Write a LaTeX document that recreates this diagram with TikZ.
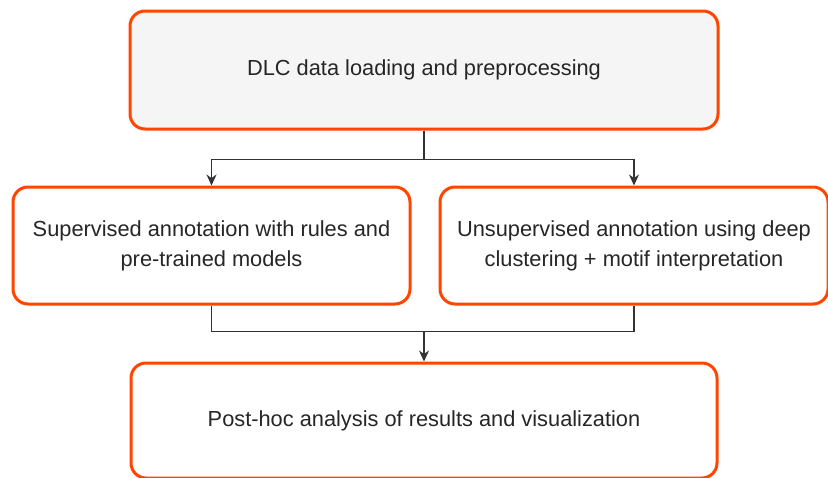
\documentclass[tikz,border=0pt]{standalone}
\usepackage{fontspec}
\setmainfont{Liberation Sans}
\usepackage{xcolor}
\usetikzlibrary{arrows.meta, positioning, calc}

\definecolor{boxline}{HTML}{FF4500}
\definecolor{boxfill}{HTML}{F5F5F5}
\definecolor{wire}{HTML}{333333}

\begin{document}
\begin{tikzpicture}[x=1pt, y=-1pt]
\tikzstyle{stage} = [rectangle, rounded corners=15pt, draw=boxline, line width=3pt, fill=white, align=center, text=black!85, font=\fontsize{21.8}{30}\selectfont, inner sep=0pt]
\tikzstyle{arrow} = [draw=wire, line width=1.1pt, -{Stealth[length=11pt, width=10pt]}]
\tikzstyle{wireline} = [draw=wire, line width=1.1pt]

\useasboundingbox (0,0) rectangle (828,477);

% Loading
\node[stage, fill=boxfill, minimum width=588pt, minimum height=118pt] (load) at (424,70) {DLC data loading and preprocessing};

% Annotation
\node[stage, minimum width=397pt, minimum height=117pt] (sup) at (211.5,245.5) {Supervised annotation with rules and\\pre-trained models};
\node[stage, minimum width=388pt, minimum height=117pt] (unsup) at (634,245.5) {Unsupervised annotation using deep\\clustering + motif interpretation};

% Analysis
\node[stage, minimum width=586pt, minimum height=115pt] (post) at (424,420.5) {Post-hoc analysis of results and visualization};

% Connections
\coordinate (split) at ($(load.south)+(0,29)$);
\coordinate (join) at ($(post.north)+(0,-30)$);
\draw[wireline] (load.south) -- (split);
\draw[arrow] (split) -| (sup.north);
\draw[arrow] (split) -| (unsup.north);
\draw[wireline] (sup.south) |- (join);
\draw[wireline] (unsup.south) |- (join);
\draw[arrow] (join) -- (post.north);
\end{tikzpicture}
\end{document}
